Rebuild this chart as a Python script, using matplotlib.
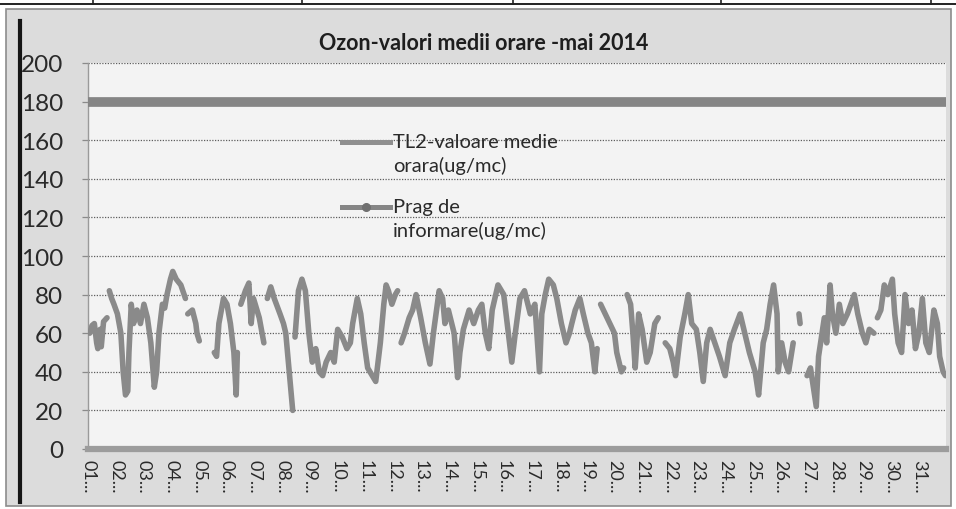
import numpy as np
import matplotlib
matplotlib.use("Agg")
import matplotlib.pyplot as plt
from matplotlib.patches import Rectangle
from matplotlib.lines import Line2D

plt.rcParams['font.family'] = ['Lato', 'DejaVu Sans']

# ---------------- data ----------------
TITLE = "Ozon-valori medii orare -mai 2014"
SERIES_LABEL = ["TL2-valoare medie", "orara(ug/mc)"]
PRAG_LABEL = ["Prag de", "informare(ug/mc)"]
DAY_LABELS = ["01...", "02...", "03...", "04...", "05...", "06...", "07...", "08...",
              "09...", "10...", "11...", "12...", "13...", "14...", "15...", "16...",
              "17...", "18...", "19...", "20...", "21...", "22...", "23...", "24...",
              "25...", "26...", "27...", "28...", "29...", "30...", "31..."]
HOURS_PER_DAY = 24
N_HOURS = 744
PRAG = 180                       # information threshold (ug/mc)
Y_TICKS = [0, 20, 40, 60, 80, 100, 120, 140, 160, 180, 200]

nan = float("nan")
# hour index within May 2014 (0 = 01 May 00h); nan values mark missing data
HOURS = [1, 3, 5, 7, 8, 10, 11, 13, 16, 17,
         18, 20, 22, 25, 28, 30, 32, 34, 35, 37, 39, 42, 45, 48, 51, 54, 57, 59, 61, 64,
         66, 68, 71, 73, 76, 80, 84, 85,
         86, 90, 93, 94, 96, 100,
         109, 111, 113, 117, 120, 123, 126, 128, 129, 130,
         132, 136, 139, 141, 143, 148, 152, 153,
         155, 158, 161, 166, 169, 171, 174, 177, 178,
         179, 182, 185, 188, 191, 194, 197, 200, 203, 206, 210, 213, 216, 220, 224,
         227, 229, 233, 236, 239, 242, 246, 249, 253, 256, 258, 260, 263, 266, 268, 269,
         271, 274, 278, 281, 284, 288, 292, 296, 299, 304, 307, 309, 312, 317, 320,
         322, 325, 330, 334, 338, 341, 344, 347, 350, 355, 360, 364, 367, 370, 374,
         378, 383, 387, 391, 393, 396, 399, 403, 406, 410, 414, 417, 419, 422, 426,
         429, 433, 436, 439, 441, 442,
         444, 448, 452, 456, 458, 462, 464, 465,
         467, 470, 472, 474, 477, 480, 484, 487, 491, 494, 497,
         500, 504, 507, 509, 513, 517, 520, 523, 527, 530, 533, 536, 539, 543, 547,
         552, 556, 560, 565, 569, 573, 578, 581, 585, 588, 591, 594, 597, 598, 601,
         604, 607, 611, 613,
         616, 617, 620,
         623, 626, 629, 631, 633, 636, 638, 640, 643, 645, 648, 651, 654, 658, 664,
         667, 671, 674, 677, 681, 682,
         684, 687, 690, 693, 697, 699, 702, 705, 708, 711, 714, 717, 720, 723, 726,
         729, 733, 736, 738, 741, 743]
OZONE = [60, 64, 65, 55, 52, 62, 53, 66, 68, nan,
         82, 78, 75, 70, 60, 40, 28, 30, 50, 75, 65, 72, 65, 75, 68, 55, 32, 40, 60, 75,
         73, 80, 88, 92, 88, 85, 78, nan,
         70, 72, 65, 60, 56, nan,
         50, 48, 65, 78, 75, 65, 50, 28, 50, nan,
         75, 82, 86, 65, 78, 68, 55, nan,
         78, 84, 78, 70, 65, 60, 40, 20, nan,
         58, 82, 88, 82, 60, 45, 52, 40, 38, 45, 50, 45, 62, 58, 52,
         55, 65, 78, 70, 55, 42, 38, 35, 55, 75, 85, 82, 75, 80, 82, nan,
         55, 60, 68, 72, 80, 68, 55, 44, 60, 82, 78, 65, 72, 60, 37,
         50, 62, 72, 65, 72, 75, 60, 52, 72, 85, 80, 60, 45, 60, 78,
         82, 70, 75, 40, 70, 80, 88, 85, 78, 65, 55, 60, 65, 72, 78,
         70, 60, 55, 40, 52, nan,
         75, 70, 65, 60, 50, 40, 42, nan,
         80, 75, 60, 42, 70, 62, 45, 50, 65, 68, nan,
         55, 52, 45, 38, 58, 70, 80, 65, 62, 50, 35, 55, 62, 55, 48,
         38, 55, 62, 70, 60, 50, 40, 28, 55, 62, 75, 85, 70, 40, 55,
         45, 40, 55, nan,
         70, 65, nan,
         38, 42, 30, 22, 48, 60, 68, 55, 85, 70, 60, 75, 65, 70, 80,
         70, 60, 55, 62, 60, nan,
         68, 72, 85, 80, 88, 70, 55, 50, 80, 65, 72, 52, 60, 78, 55,
         50, 72, 65, 48, 40, 38]
assert len(HOURS) == len(OZONE)

# ---------------- figure ----------------
W, H = 956, 510
fig = plt.figure(figsize=(W / 100, H / 100), dpi=100, facecolor="white")

# chart area background and scan decorations
fig.patches.append(Rectangle((6 / W, 3 / H), 945 / W, 497 / H, transform=fig.transFigure,
                             facecolor="#dcdcdc", edgecolor="#8c8c8c", lw=1.2, zorder=-10))
fig.lines.append(Line2D([0, 1], [1 - 5 / H, 1 - 5 / H], transform=fig.transFigure,
                        color="#222222", lw=1.4))
for xv in [93, 302, 513, 721, 931]:
    fig.lines.append(Line2D([xv / W, xv / W], [1 - 5 / H, 1], transform=fig.transFigure,
                            color="#222222", lw=1.2))
fig.lines.append(Line2D([20 / W, 20 / W], [1 - 503 / H, 1 - 22 / H], transform=fig.transFigure,
                        color="#151515", lw=3.0))

ax = fig.add_axes([88 / W, (H - 450) / H, 858 / W, 386 / H])
ax.set_facecolor("#f3f3f3")

hours = np.array(HOURS, dtype=float)
ozone = np.array(OZONE, dtype=float)

ax.axhline(PRAG, color="#858585", lw=7.0, solid_capstyle="butt", zorder=3)
ax.plot(hours, ozone, color="#8a8a8a", lw=4.0, solid_joinstyle="round",
        solid_capstyle="round", zorder=4)

ax.set_xlim(-0.5, N_HOURS - 0.5)
ax.set_ylim(0, 200)
ax.set_yticks(Y_TICKS)
ax.set_yticklabels([str(v) for v in Y_TICKS])
ax.set_xticks(np.arange(len(DAY_LABELS)) * HOURS_PER_DAY)
ax.set_xticklabels(DAY_LABELS, rotation=-90, fontsize=13, color="#2a2a2a")

ax.grid(axis="y", color="#5e5e5e", linestyle=(0, (1, 1.2)), lw=0.9, zorder=1)
ax.tick_params(axis="y", length=4.5, width=0.9, color="#8a8a8a", pad=13.5,
               labelsize=17.5, labelcolor="#2a2a2a")
ax.tick_params(axis="x", length=0, pad=7)

for s in ["top", "right"]:
    ax.spines[s].set_visible(False)
ax.spines["left"].set_color("#9a9a9a")
ax.spines["left"].set_linewidth(1.0)
ax.spines["bottom"].set_color("#9c9c9c")
ax.spines["bottom"].set_linewidth(4.5)
ax.spines["bottom"].set_zorder(5)

# title
fig.text(484 / W, 1 - 43 / H, TITLE, ha="center", va="center", fontsize=15.5,
         fontweight="bold", color="#1e1e1e")

# legend (drawn by hand, handles aligned with the first text line)
tx = (393 - 88) / 858
hx0, hx1 = (342 - 88) / 858, (390 - 88) / 858
y1a, y1b = (450 - 143) / 386, (450 - 166) / 386
y2a, y2b = (450 - 208) / 386, (450 - 231) / 386
ax.add_line(Line2D([hx0, hx1], [y1a, y1a], transform=ax.transAxes, color="#8f8f8f", lw=3.6))
ax.add_line(Line2D([hx0, hx1], [y2a, y2a], transform=ax.transAxes, color="#858585", lw=3.6))
ax.add_line(Line2D([(hx0 + hx1) / 2], [y2a], transform=ax.transAxes, color="#707070",
                   marker="o", markersize=5.5, lw=0))
for txt, yy in [(SERIES_LABEL[0], y1a), (SERIES_LABEL[1], y1b),
                (PRAG_LABEL[0], y2a), (PRAG_LABEL[1], y2b)]:
    ax.text(tx, yy, txt, transform=ax.transAxes, ha="left", va="center",
            fontsize=14.5, color="#2a2a2a", zorder=6)

fig.savefig("out.png", dpi=100, facecolor=fig.get_facecolor())
